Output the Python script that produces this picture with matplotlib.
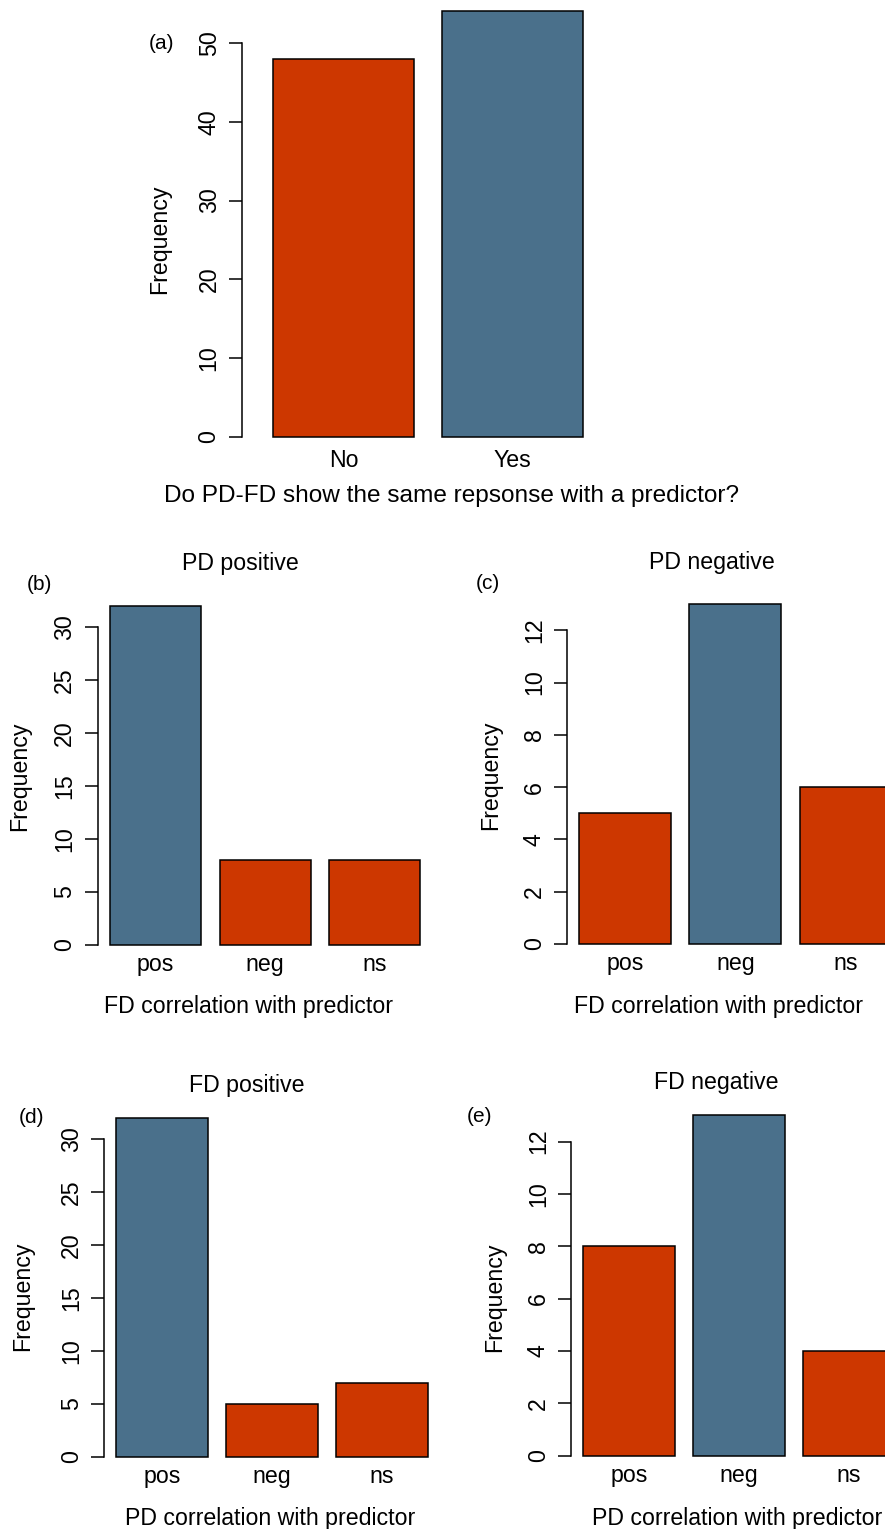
import numpy as np
import matplotlib
matplotlib.use("Agg")
import matplotlib.pyplot as plt

plt.rcParams['font.family'] = ['Liberation Sans', 'DejaVu Sans']

RED = "#CD3700"   # orangered3
BLUE = "#4A708B"  # skyblue4

# data
same_cats = ["No", "Yes"]
same_freq = [48, 54]
same_colors = [RED, BLUE]

corr_cats = ["pos", "neg", "ns"]
pd_pos_freq = [32, 8, 8]   # FD correlation, PD positive
pd_neg_freq = [5, 13, 6]   # FD correlation, PD negative
fd_pos_freq = [32, 5, 7]   # PD correlation, FD positive
fd_neg_freq = [8, 13, 4]   # PD correlation, FD negative
pos_colors = [BLUE, RED, RED]
neg_colors = [RED, BLUE, RED]

W, H = 885, 1529
FS = 16.7
LW = 1.1
fig = plt.figure(figsize=(W / 100, H / 100), dpi=100)


def barpanel(values, labels, colors, axis_px, bar_px, unit_px, zero_px, ppu, step):
    # R barplot style: width 1, space 0.2, 4% padding on the value axis
    n = len(values)
    lefts = 0.2 + 1.2 * np.arange(n)
    x0 = 0.2 - (bar_px - axis_px) / unit_px
    x1 = 1.2 * n + 0.04 * (1.2 * n - 0.2)
    ymax = max(values)
    y0, y1 = -0.04 * ymax, 1.04 * ymax
    left, right = axis_px, axis_px + (x1 - x0) * unit_px
    bottom, top = zero_px - y0 * ppu, zero_px - y1 * ppu
    ax = fig.add_axes([left / W, 1 - bottom / H, (right - left) / W, (bottom - top) / H])
    ax.set_facecolor("none")
    ax.bar(lefts, values, width=1, align="edge", color=colors,
           edgecolor="black", linewidth=LW)
    ax.set_xlim(x0, x1)
    ax.set_ylim(y0, y1)
    for s in ["top", "right", "bottom"]:
        ax.spines[s].set_visible(False)
    yt = np.arange(0, ymax + 1e-9, step)
    ax.set_yticks(yt)
    ax.spines["left"].set_bounds(0, yt[-1])
    ax.spines["left"].set_linewidth(LW)
    ax.tick_params(axis="y", length=9.4, width=LW, pad=6, labelsize=FS, labelrotation=90)
    for t in ax.get_yticklabels():
        t.set_va("center")
    ax.set_xticks(lefts + 0.5, labels)
    ax.tick_params(axis="x", length=0, pad=9, labelsize=FS)
    for t in ax.get_xticklabels():
        t.set_va("baseline")
    return ax


def label(x, y, s, size=FS, rot=0):
    fig.text(x / W, 1 - y / H, s, ha="center", va="baseline", rotation=rot,
             rotation_mode="anchor", fontsize=size)


# (a)
barpanel(same_freq, same_cats, same_colors, 242, 273, 141, 437, 7.88, 10)
label(162, 49, "(a)", size=15)
label(166, 239, "Frequency", rot=90)
label(451, 501.7, "Do PD-FD show the same repsonse with a predictor?", size=17.6)

# (b)
barpanel(pd_pos_freq, corr_cats, pos_colors, 97.7, 110, 91.3, 945, 10.59, 5)
label(240, 570, "PD positive")
label(39, 590, "(b)", size=15)
label(26, 775.8, "Frequency", rot=90)
label(248, 1012.7, "FD correlation with predictor")

# (c)
barpanel(pd_neg_freq, corr_cats, neg_colors, 567.3, 579, 92, 944, 26.14, 2)
label(711.7, 569, "PD negative")
label(488.3, 589, "(c)", size=15)
label(497.3, 775, "Frequency", rot=90)
label(718.7, 1012.7, "FD correlation with predictor")

# (d)
barpanel(fd_pos_freq, corr_cats, pos_colors, 104.3, 116.3, 91.6, 1456.7, 10.59, 5)
label(247, 1091.7, "FD positive")
label(31.7, 1123, "(d)", size=15)
label(29.3, 1296.7, "Frequency", rot=90)
label(270, 1525, "PD correlation with predictor")

# (e)
barpanel(fd_neg_freq, corr_cats, neg_colors, 571.3, 583.3, 91.5, 1455.7, 26.17, 2)
label(715.8, 1089.3, "FD negative")
label(479.5, 1121.7, "(e)", size=15)
label(501.6, 1297, "Frequency", rot=90)
label(737.2, 1525, "PD correlation with predictor")

fig.savefig("out.png", dpi=100)
